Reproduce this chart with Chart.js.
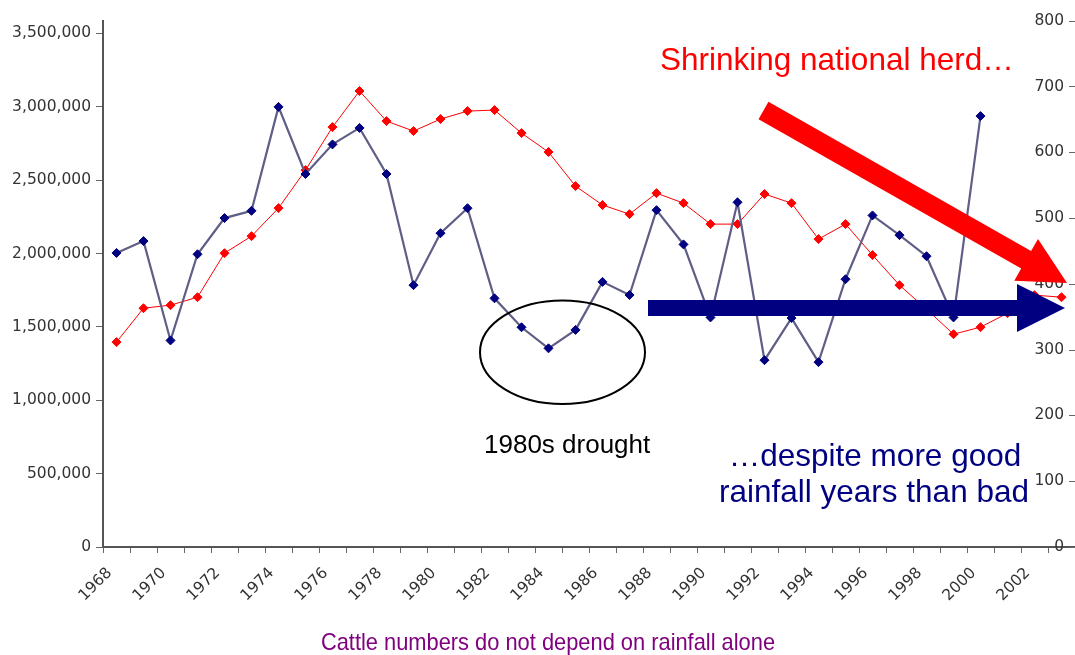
<!DOCTYPE html>
<html>
<head>
<meta charset="utf-8">
<script src="https://cdn.jsdelivr.net/npm/chart.js@4.4.1/dist/chart.umd.min.js"></script>
<style>
  html, body { margin: 0; padding: 0; background: #ffffff; }
  #wrap { width: 1075px; height: 655px; position: relative; }
</style>
</head>
<body>
<div id="wrap"><canvas id="c" width="1075" height="655"></canvas></div>
<script>
// ---- data ----
const years = ['1968','1969','1970','1971','1972','1973','1974','1975','1976','1977',
               '1978','1979','1980','1981','1982','1983','1984','1985','1986','1987',
               '1988','1989','1990','1991','1992','1993','1994','1995','1996','1997',
               '1998','1999','2000','2001','2002','2003'];
const tickLabels = ['1968','1970','1972','1974','1976','1978','1980','1982','1984',
                    '1986','1988','1990','1992','1994','1996','1998','2000','2002'];
// national cattle herd (left axis)
const cattle = [1396000,1627000,1648000,1702000,2002000,2118000,2309000,2568000,2861000,3107000,
                2902000,2834000,2916000,2970000,2977000,2820000,2691000,2459000,2330000,2268000,
                2411000,2343000,2200000,2200000,2405000,2343000,2098000,2200000,1989000,1784000,
                1620000,1450000,1498000,1593000,1716000,1702000];
// rainfall, mm (right axis)
const rainfall = [447,465,314,445,500,511,669,567,612,637,
                  567,398,477,515,378,334,302,330,403,383,
                  512,460,349,524,284,348,281,407,504,474,
                  442,349,655,null,null,null];
const cattleTicks = [0,500000,1000000,1500000,2000000,2500000,3000000,3500000];
const rainTicks = [0,100,200,300,400,500,600,700,800];
const cattleMax = 3586000;
const rainMax = 800;

// ---- annotation text ----
const headline = 'Shrinking national herd\u2026';
const subline1 = '\u2026despite more good';
const subline2 = 'rainfall years than bad';
const droughtLabel = '1980s drought';
const caption = 'Cattle numbers do not depend on rainfall alone';

function drawArrow(ctx, x1, y1, x2, y2, shaftW, headLen, headW, color) {
  const dx = x2 - x1, dy = y2 - y1;
  const len = Math.hypot(dx, dy);
  const ux = dx / len, uy = dy / len;
  const px = -uy, py = ux;
  const bx = x2 - ux * headLen, by = y2 - uy * headLen;
  ctx.beginPath();
  ctx.moveTo(x1 + px * shaftW / 2, y1 + py * shaftW / 2);
  ctx.lineTo(bx + px * shaftW / 2, by + py * shaftW / 2);
  ctx.lineTo(bx + px * headW / 2, by + py * headW / 2);
  ctx.lineTo(x2, y2);
  ctx.lineTo(bx - px * headW / 2, by - py * headW / 2);
  ctx.lineTo(bx - px * shaftW / 2, by - py * shaftW / 2);
  ctx.lineTo(x1 - px * shaftW / 2, y1 - py * shaftW / 2);
  ctx.closePath();
  ctx.fillStyle = color;
  ctx.fill();
}

const decor = {
  id: 'decor',
  beforeDraw(chart) {
    const ctx = chart.ctx;
    ctx.save();
    ctx.fillStyle = '#ffffff';
    ctx.fillRect(0, 0, chart.width, chart.height);
    ctx.restore();
  },
  beforeDatasetsDraw(chart) {
    // right-hand rainfall axis labels (drawn inside, as in the original)
    const ctx = chart.ctx;
    const s = chart.scales.y2;
    const right = chart.chartArea.right;
    ctx.save();
    ctx.font = '15.5px "DejaVu Sans"';
    ctx.fillStyle = '#333333';
    ctx.textAlign = 'right';
    ctx.textBaseline = 'middle';
    ctx.strokeStyle = '#666666';
    ctx.lineWidth = 1;
    rainTicks.forEach(v => {
      const y = s.getPixelForValue(v);
      ctx.fillText(String(v), right - 11, y);
      ctx.beginPath();
      ctx.moveTo(right - 6, Math.round(y) + 0.5);
      ctx.lineTo(right, Math.round(y) + 0.5);
      ctx.stroke();
    });
    ctx.restore();
  },
  afterDatasetsDraw(chart) {
    const ctx = chart.ctx;
    ctx.save();
    // drought ellipse
    ctx.beginPath();
    ctx.ellipse(562.5, 352.3, 82.5, 51.8, 0, 0, Math.PI * 2);
    ctx.strokeStyle = '#000000';
    ctx.lineWidth = 2;
    ctx.stroke();
    // arrows
    drawArrow(ctx, 763.5, 110.5, 1067, 283, 20, 47, 48, '#ff0000');
    drawArrow(ctx, 648, 308, 1065, 308, 16, 48, 48, '#000080');
    // texts
    ctx.textBaseline = 'alphabetic';
    ctx.font = '31.5px "Liberation Sans", Arial, sans-serif';
    ctx.fillStyle = '#ff0000';
    ctx.textAlign = 'left';
    ctx.fillText(headline, 660, 70);
    ctx.fillStyle = '#000080';
    ctx.textAlign = 'center';
    ctx.fillText(subline1, 875, 466);
    ctx.fillText(subline2, 874, 502);
    ctx.font = '26px "Liberation Sans", Arial, sans-serif';
    ctx.fillStyle = '#000000';
    ctx.textAlign = 'left';
    ctx.fillText(droughtLabel, 484, 453);
    // caption
    ctx.save();
    ctx.translate(548, 650);
    ctx.scale(0.91, 1);
    ctx.font = '24px "Liberation Sans", Arial, sans-serif';
    ctx.fillStyle = '#800080';
    ctx.textAlign = 'center';
    ctx.fillText(caption, 0, 0);
    ctx.restore();
    ctx.restore();
  }
};

new Chart(document.getElementById('c'), {
  type: 'line',
  data: {
    labels: years,
    datasets: [
      {
        label: 'Rainfall (mm)',
        data: rainfall,
        yAxisID: 'y2',
        borderColor: '#5e5e86',
        borderWidth: 2.2,
        pointStyle: 'rectRot',
        pointRadius: 4.5,
        pointBackgroundColor: '#000080',
        pointBorderColor: '#000080',
        pointBorderWidth: 1,
        tension: 0,
        spanGaps: false
      },
      {
        label: 'Cattle numbers',
        data: cattle,
        yAxisID: 'y',
        borderColor: '#ff0000',
        borderWidth: 1,
        pointStyle: 'rectRot',
        pointRadius: 4.5,
        pointBackgroundColor: '#ff0000',
        pointBorderColor: '#ff0000',
        pointBorderWidth: 1,
        tension: 0
      }
    ]
  },
  options: {
    responsive: false,
    animation: false,
    devicePixelRatio: 1,
    layout: { autoPadding: false, padding: { top: 20.7, left: 0, right: 0, bottom: 0 } },
    plugins: { legend: { display: false }, tooltip: { enabled: false } },
    scales: {
      x: {
        type: 'category',
        offset: true,
        grid: { offset: true, drawOnChartArea: false, drawTicks: true, tickLength: 6, color: '#666666', lineWidth: 1 },
        border: { display: true, color: '#555555', width: 2 },
        ticks: {
          autoSkip: false,
          maxRotation: 45,
          minRotation: 45,
          padding: 11,
          labelOffset: -7,
          color: '#333333',
          font: { family: 'DejaVu Sans', size: 15.5 },
          callback: function (v, i) { return tickLabels.includes(years[i]) ? years[i] : ''; }
        },
        afterFit: s => { s.height = 108; s.paddingLeft = 0; s.paddingRight = 0; }
      },
      y: {
        position: 'left',
        min: 0,
        max: cattleMax,
        afterBuildTicks: s => { s.ticks = cattleTicks.map(v => ({ value: v })); },
        grid: { drawOnChartArea: false, drawTicks: true, tickLength: 7, color: '#666666' },
        border: { display: true, color: '#555555', width: 2 },
        ticks: {
          padding: 5,
          color: '#333333',
          font: { family: 'DejaVu Sans', size: 15.5 },
          callback: v => Number(v).toLocaleString('en-US')
        },
        afterFit: s => { s.width = 103; s.paddingTop = 0; s.paddingBottom = 0; }
      },
      y2: {
        position: 'right',
        display: false,
        min: 0,
        max: rainMax
      }
    }
  },
  plugins: [decor]
});
</script>
</body>
</html>
